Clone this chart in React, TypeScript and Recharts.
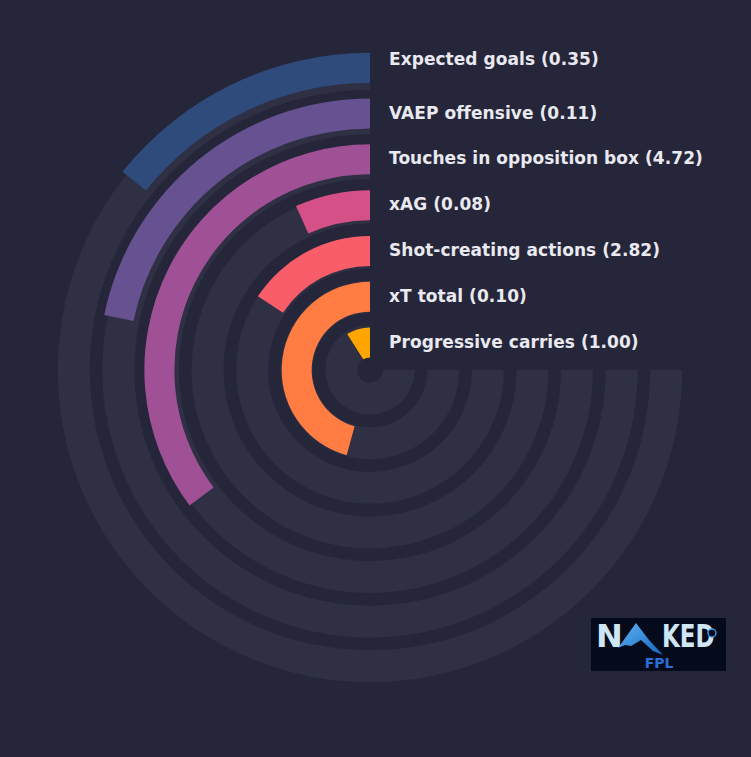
import { RadialBarChart, RadialBar, PolarAngleAxis, PolarRadiusAxis, Cell } from 'recharts';

// metrics listed from the outer ring to the inner ring
const metrics = [
  'Expected goals',
  'VAEP offensive',
  'Touches in opposition box',
  'xAG',
  'Shot-creating actions',
  'xT total',
  'Progressive carries',
];
const perNinety = [0.35, 0.11, 4.72, 0.08, 2.82, 0.1, 1.0];
const percentiles = [19, 29, 47, 9, 21, 61, 12];

const palette = ['#2f4b7c', '#665191', '#a05195', '#d45087', '#f95d6a', '#ff7c43', '#ffa600'];

const BG = '#25263a';
const TRACK = '#2f3044';

// recharts puts the first row on the innermost ring
const barData = metrics
  .map((name, i) => ({ name, pct: percentiles[i], fill: palette[i] }))
  .reverse();
const trackData = metrics.map((name) => ({ name, full: 100 })).reverse();

const renderLabel = (props: any) => {
  const { x, y, payload, index } = props;
  let i = metrics.indexOf(payload?.value);
  if (i < 0 && typeof index === 'number') i = metrics.length - 1 - index;
  if (i < 0 || i >= metrics.length) return <g />;
  const lift = i === 0 ? 8 : 0;
  return (
    <text
      x={x + 19}
      y={y + 5 - lift}
      fill="#e9e9ef"
      fontFamily="DejaVu Sans"
      fontWeight="bold"
      fontSize={17}
      letterSpacing={0.05}
      textAnchor="start"
    >
      {`${metrics[i]} (${perNinety[i].toFixed(2)})`}
    </text>
  );
};

function Logo() {
  // svg is padded by 10px above so the big letters are not clipped
  return (
    <svg width={135} height={63} style={{ position: 'absolute', left: 591, top: 608 }}>
      <defs>
        <linearGradient id="mtn" x1="0" y1="0" x2="1" y2="1">
          <stop offset="0" stopColor="#5fb4f5" />
          <stop offset="1" stopColor="#1565c0" />
        </linearGradient>
        <linearGradient id="ln" x1="0" y1="0" x2="1" y2="0">
          <stop offset="0" stopColor="#1f5fbf" stopOpacity={0.2} />
          <stop offset="0.5" stopColor="#2f7be0" />
          <stop offset="1" stopColor="#1f5fbf" stopOpacity={0.2} />
        </linearGradient>
      </defs>
      <rect y={10} width={135} height={53} fill="#060b1c" />
      <g transform="translate(0,10)">
        <text x={5} y={29} fill="#cfe6f5" fontFamily="DejaVu Sans" fontWeight="bold" fontSize={32}>
          N
        </text>
        <path d="M27 30 L45 5 L58 22 L72 37 L62 33 L50 22 L40 28 L34 27 Z" fill="url(#mtn)" />
        <g transform="translate(71,0) scale(0.72,1)">
          <text x={0} y={29} fill="#cfe6f5" fontFamily="DejaVu Sans" fontWeight="bold" fontSize={32}>
            KED
          </text>
        </g>
        <circle cx={121} cy={15} r={4} fill="#060b1c" stroke="#3a9be8" strokeWidth={1.5} />
        <line x1={4} y1={45} x2={51} y2={45} stroke="url(#ln)" strokeWidth={1.2} />
        <line x1={86} y1={45} x2={132} y2={45} stroke="url(#ln)" strokeWidth={1.2} />
        <text
          x={68}
          y={50}
          fill="#2a6fd6"
          fontFamily="DejaVu Sans"
          fontWeight="bold"
          fontSize={14}
          textAnchor="middle"
        >
          FPL
        </text>
      </g>
    </svg>
  );
}

export default function App() {
  return (
    <div
      style={{
        position: 'fixed',
        left: 0,
        top: 0,
        width: 751,
        height: 757,
        background: BG,
        overflow: 'hidden',
      }}
    >
      <div style={{ position: 'absolute', left: 0, top: 0 }}>
        <RadialBarChart
          width={751}
          height={757}
          cx={370}
          cy={370}
          data={trackData}
          innerRadius={6.7}
          outerRadius={318.8}
          startAngle={90}
          endAngle={360}
          barSize={32}
          margin={{ top: 0, right: 0, bottom: 0, left: 0 }}
        >
          <PolarAngleAxis type="number" domain={[0, 100]} tick={false} axisLine={false} />
          <RadialBar dataKey="full" fill={TRACK} isAnimationActive={false} />
        </RadialBarChart>
      </div>
      <div style={{ position: 'absolute', left: 0, top: 0 }}>
        <RadialBarChart
          width={751}
          height={757}
          cx={370}
          cy={370}
          data={barData}
          innerRadius={4.6}
          outerRadius={324.9}
          startAngle={90}
          endAngle={360}
          barSize={30}
          margin={{ top: 0, right: 0, bottom: 0, left: 0 }}
        >
          <PolarAngleAxis type="number" domain={[0, 100]} tick={false} axisLine={false} />
          <PolarRadiusAxis
            type="category"
            dataKey="name"
            angle={90}
            axisLine={false}
            tickLine={false}
            tick={renderLabel}
          />
          <RadialBar dataKey="pct" isAnimationActive={false}>
            {barData.map((d) => (
              <Cell key={d.name} fill={d.fill} />
            ))}
          </RadialBar>
        </RadialBarChart>
      </div>
      <Logo />
    </div>
  );
}
